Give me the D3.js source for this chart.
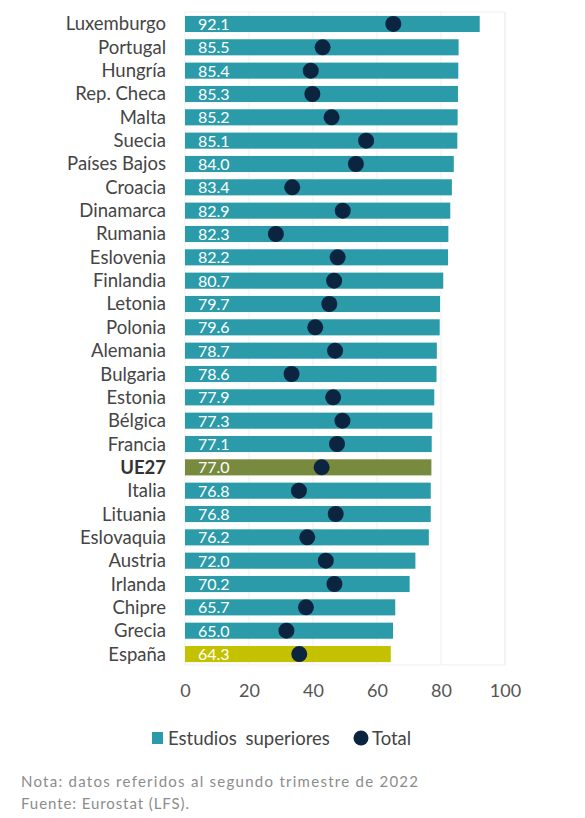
<!DOCTYPE html>
<html>
<head>
<meta charset="utf-8">
<script src="https://cdn.jsdelivr.net/npm/d3@7"></script>
<style>
  body { margin: 0; background: #fff; }
  svg text { font-family: Lato, "Liberation Sans", sans-serif; }
</style>
</head>
<body>
<div id="graf"></div>
<script>
const paises = ['Luxemburgo', 'Portugal', 'Hungría', 'Rep. Checa', 'Malta', 'Suecia', 'Países Bajos',
  'Croacia', 'Dinamarca', 'Rumania', 'Eslovenia', 'Finlandia', 'Letonia', 'Polonia', 'Alemania',
  'Bulgaria', 'Estonia', 'Bélgica', 'Francia', 'UE27', 'Italia', 'Lituania', 'Eslovaquia',
  'Austria', 'Irlanda', 'Chipre', 'Grecia', 'España']
const superiores = [92.1, 85.5, 85.4, 85.3, 85.2, 85.1, 84.0, 83.4, 82.9, 82.3, 82.2, 80.7, 79.7,
  79.6, 78.7, 78.6, 77.9, 77.3, 77.1, 77.0, 76.8, 76.8, 76.2, 72.0, 70.2, 65.7, 65.0, 64.3]
const total = [65.1, 43.0, 39.3, 39.8, 45.8, 56.6, 53.4, 33.5, 49.3, 28.4, 47.7, 46.6, 45.1,
  40.7, 46.9, 33.3, 46.3, 49.2, 47.5, 42.7, 35.6, 47.1, 38.2, 44.0, 46.7, 37.8, 31.7, 35.7]
const ticks = [0, 20, 40, 60, 80, 100]
const notas = ['Nota: datos referidos al segundo trimestre de 2022', 'Fuente: Eurostat (LFS).']

const ancho = 585
const alto = 818

const datos = paises.map((p, i) => ({ pais: p, sup: superiores[i], tot: total[i] }))

const colorBarra = d => d.pais === 'UE27' ? '#778a3e' : (d.pais === 'España' ? '#c3c100' : '#2b9ba9')

const svg = d3.select('#graf')
  .append('svg')
  .attr('width', ancho)
  .attr('height', alto)

const x = d3.scaleLinear()
  .domain([0, 100])
  .range([185, 505])

const y = d3.scaleBand()
  .domain(paises)
  .range([12.3, 665.7])
  .paddingInner(0.31)
  .paddingOuter(0.155)

// marco y rejilla
svg.append('rect')
  .attr('x', x(0))
  .attr('y', 12)
  .attr('width', x(100) - x(0))
  .attr('height', 665 - 12)
  .attr('fill', 'none')
  .attr('stroke', '#efefef')

svg.append('g')
  .selectAll('line')
  .data(ticks.slice(1))
  .join('line')
  .attr('x1', d => x(d)).attr('x2', d => x(d))
  .attr('y1', 12).attr('y2', 665)
  .attr('stroke', '#efefef')

// eje x
const ejeX = svg.append('g')
  .attr('transform', 'translate(0, 684)')
  .call(d3.axisBottom(x).tickValues(ticks).tickSize(0).tickPadding(0))
ejeX.select('.domain').remove()
ejeX.selectAll('text')
  .attr('font-size', 18)
  .attr('fill', '#555')
  .attr('font-family', 'Lato, sans-serif')

// barras
svg.append('g')
  .selectAll('rect')
  .data(datos)
  .join('rect')
  .attr('x', x(0))
  .attr('y', d => y(d.pais))
  .attr('width', d => x(d.sup) - x(0))
  .attr('height', y.bandwidth())
  .attr('fill', colorBarra)

// etiquetas de valores
svg.append('g')
  .selectAll('text')
  .data(datos)
  .join('text')
  .attr('x', x(0) + 13)
  .attr('y', d => y(d.pais) + y.bandwidth() / 2 + 6)
  .attr('font-size', 16)
  .attr('fill', '#fff')
  .text(d => d.sup.toFixed(1))

// puntos total
svg.append('g')
  .selectAll('circle')
  .data(datos)
  .join('circle')
  .attr('cx', d => x(d.tot))
  .attr('cy', d => y(d.pais) + y.bandwidth() / 2)
  .attr('r', 8)
  .attr('fill', '#0b2540')

// nombres de paises
svg.append('g')
  .selectAll('text')
  .data(datos)
  .join('text')
  .attr('x', 166)
  .attr('y', d => y(d.pais) + y.bandwidth() / 2 + 6.5)
  .attr('text-anchor', 'end')
  .attr('font-size', 18.5)
  .attr('font-weight', d => d.pais === 'UE27' ? 'bold' : 'normal')
  .attr('fill', d => d.pais === 'UE27' ? '#333' : '#454545')
  .text(d => d.pais)

// leyenda
const ley = svg.append('g')
ley.append('rect')
  .attr('x', 152).attr('y', 732)
  .attr('width', 11).attr('height', 12)
  .attr('fill', '#2b9ba9')
ley.append('text')
  .attr('x', 168).attr('y', 745)
  .attr('font-size', 18.5)
  .attr('fill', '#454545')
  .attr('word-spacing', 4)
  .text('Estudios superiores')
ley.append('circle')
  .attr('cx', 361).attr('cy', 738)
  .attr('r', 7.5)
  .attr('fill', '#0b2540')
ley.append('text')
  .attr('x', 372).attr('y', 745)
  .attr('font-size', 18.5)
  .attr('fill', '#454545')
  .text('Total')

// notas
const largoNota = [397, 168]
svg.append('g')
  .selectAll('text')
  .data(notas)
  .join('text')
  .attr('x', 21)
  .attr('y', (d, i) => 787 + i * 22)
  .attr('font-size', 15)
  .attr('fill', '#8c8c8c')
  .attr('textLength', (d, i) => largoNota[i])
  .attr('lengthAdjust', 'spacing')
  .text(d => d)
</script>
</body>
</html>
